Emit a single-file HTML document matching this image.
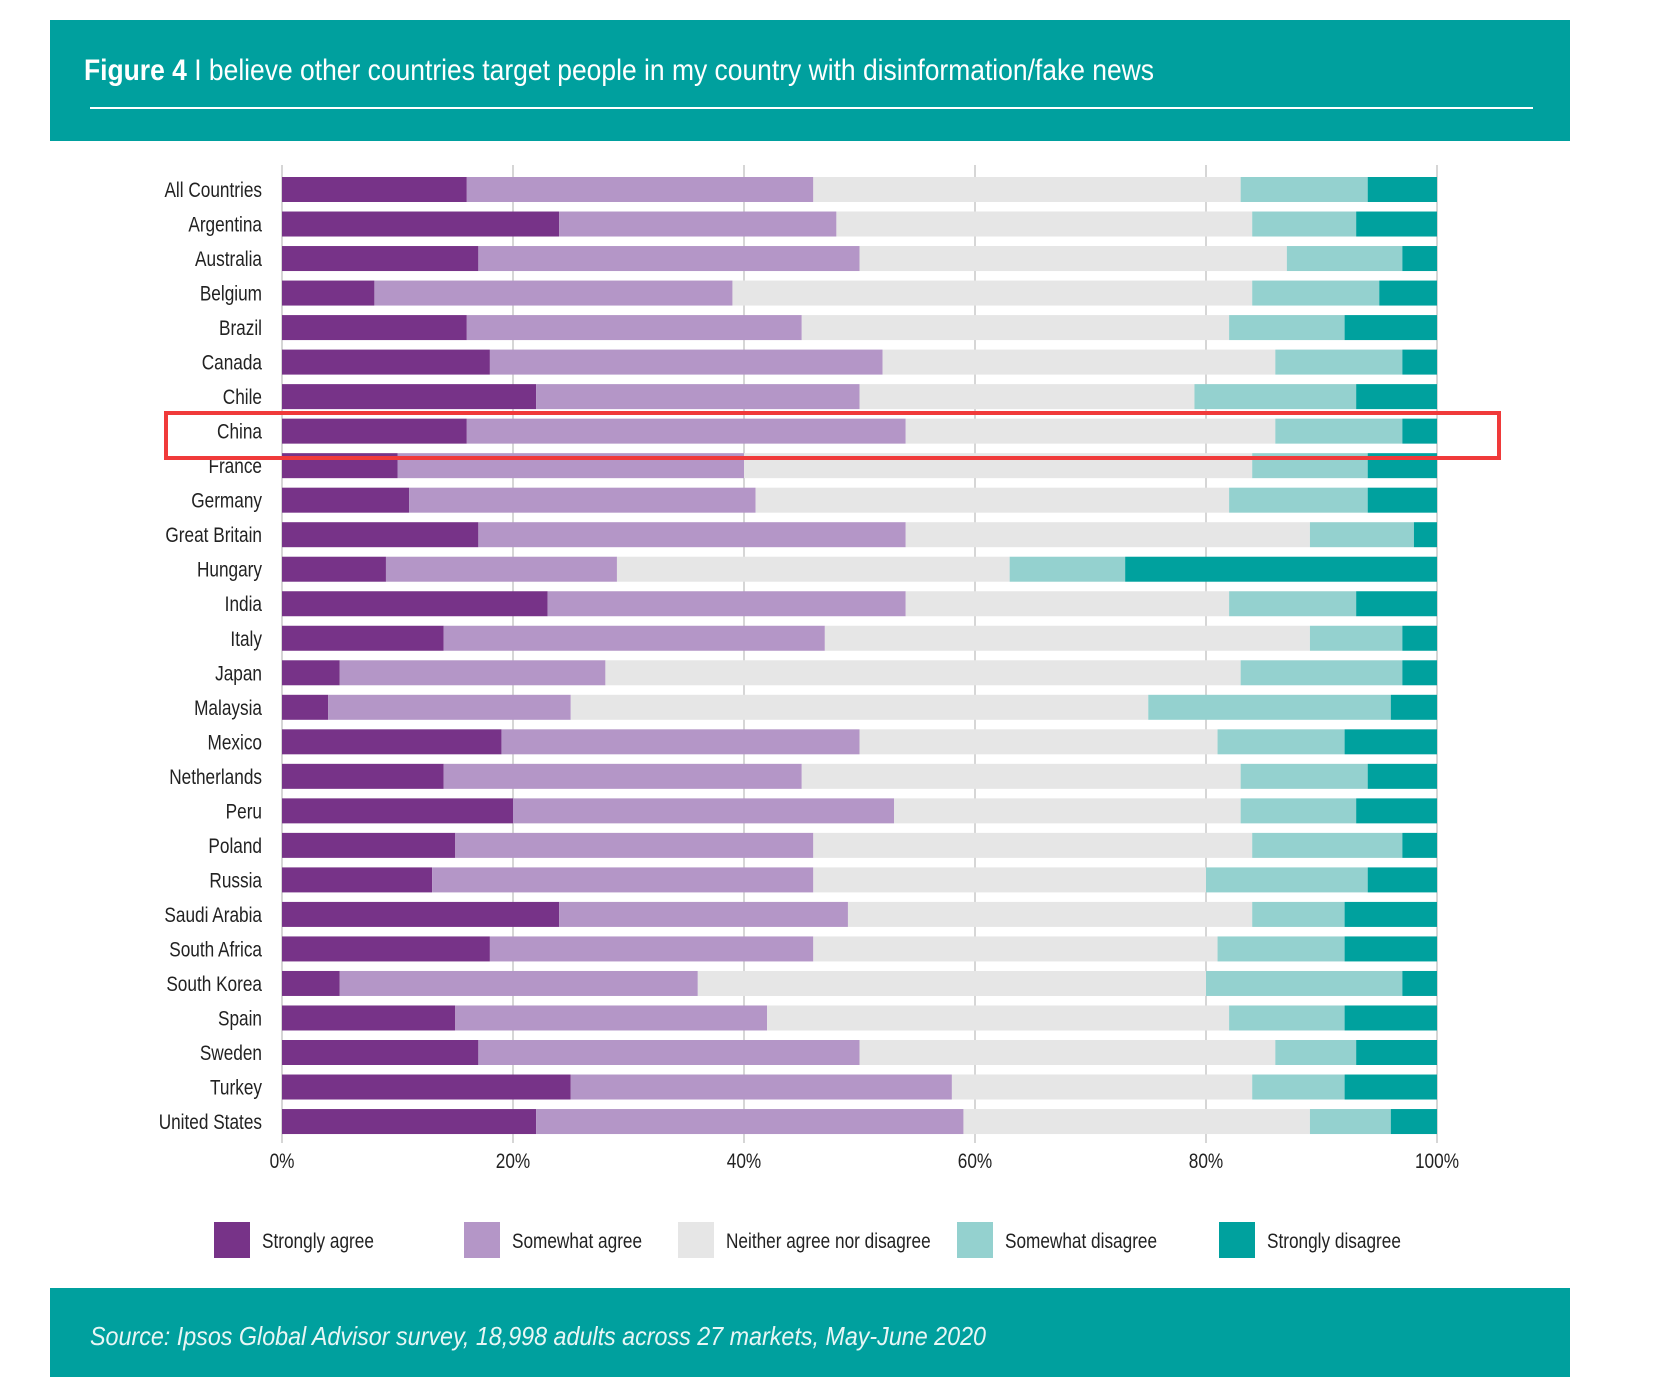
<!DOCTYPE html>
<html><head><meta charset="utf-8">
<style>
body{margin:0;background:#fff;width:1654px;height:1377px;overflow:hidden}
svg{display:block;font-family:"Liberation Sans Narrow","Liberation Sans",sans-serif}
</style></head><body>
<svg id="chart" width="1654" height="1377" viewBox="0 0 1654 1377">
<rect x="50" y="20" width="1520" height="121" fill="#00a09e"/>
<text x="84" y="80" font-size="30" fill="#fff" textLength="1070" lengthAdjust="spacingAndGlyphs"><tspan font-weight="bold">Figure 4</tspan> I believe other countries target people in my country with disinformation/fake news</text>
<line x1="90" y1="108" x2="1533" y2="108" stroke="#fff" stroke-width="2"/>
<g id="grid"></g>
<g id="bars"></g>
<g id="labels"></g>
<g id="ticks"></g>
<rect x="166" y="413" width="1333" height="45" fill="none" stroke="#f03a3a" stroke-width="4"/>
<g id="legend"></g>
<rect x="50" y="1288" width="1520" height="89" fill="#00a09e"/>
<text x="90" y="1345" font-size="26" font-style="italic" fill="#e8f6f5" textLength="896" lengthAdjust="spacingAndGlyphs">Source: Ipsos Global Advisor survey, 18,998 adults across 27 markets, May-June 2020</text>
</svg>
<script>
const countries=["All Countries","Argentina","Australia","Belgium","Brazil","Canada","Chile","China","France","Germany","Great Britain","Hungary","India","Italy","Japan","Malaysia","Mexico","Netherlands","Peru","Poland","Russia","Saudi Arabia","South Africa","South Korea","Spain","Sweden","Turkey","United States"];
const stronglyAgree=[16,24,17,8,16,18,22,16,10,11,17,9,23,14,5,4,19,14,20,15,13,24,18,5,15,17,25,22];
const somewhatAgree=[30,24,33,31,29,34,28,38,30,30,37,20,31,33,23,21,31,31,33,31,33,25,28,31,27,33,33,37];
const neither=[37,36,37,45,37,34,29,32,44,41,35,34,28,42,55,50,31,38,30,38,34,35,35,44,40,36,26,30];
const somewhatDisagree=[11,9,10,11,10,11,14,11,10,12,9,10,11,8,14,21,11,11,10,13,14,8,11,17,10,7,8,7];
const stronglyDisagree=[6,7,3,5,8,3,7,3,6,6,2,27,7,3,3,4,8,6,7,3,6,8,8,3,8,7,8,4];
const tickLabels=["0%","20%","40%","60%","80%","100%"];
const tickValues=[0,20,40,60,80,100];
const seriesNames=["Strongly agree","Somewhat agree","Neither agree nor disagree","Somewhat disagree","Strongly disagree"];

const NS="http://www.w3.org/2000/svg";
const colors=["#773388","#b496c7","#e6e6e6","#94d1cf","#00a19e"];
const x0=282,x1=1437,y0=189.5,step=34.52,bh=25,SX=0.82;
const xs=v=>x0+(x1-x0)*v/100;
const ys=i=>y0+i*step;
function mk(tag,attrs,parent){const e=document.createElementNS(NS,tag);for(const k in attrs)e.setAttribute(k,attrs[k]);document.getElementById(parent).appendChild(e);return e;}
function ntext(x,y,size,anchor,parent){return mk("text",{x:x/SX,y:y,"font-size":size,"text-anchor":anchor,fill:"#222",transform:"scale("+SX+",1)"},parent);}

tickValues.forEach((t,i)=>{
  const g=mk("line",{x1:xs(t),x2:xs(t),y1:165,y2:1143,stroke:"#d6d6d6","stroke-width":2},"grid");
  
  
  const tx=ntext(xs(t),1168,21,"middle","ticks");
  tx.textContent=tickLabels[i];
  
  
});

const series=[stronglyAgree,somewhatAgree,neither,somewhatDisagree,stronglyDisagree];
countries.forEach((c,i)=>{
  let acc=0;
  series.forEach((s,k)=>{
    const v=s[i];
    const r=mk("rect",{x:xs(acc),y:ys(i)-bh/2,width:xs(acc+v)-xs(acc),height:bh,fill:colors[k]},"bars");
    
    
    acc+=v;
  });
  const l=ntext(262,ys(i)+7.5,21,"end","labels");
  l.textContent=c;
  
  
});

const swX=[214,464,678,957,1219];
seriesNames.forEach((n,k)=>{
  const r=mk("rect",{x:swX[k],y:1222,width:36,height:36,fill:colors[k]},"legend");
  
  
  const t=ntext(swX[k]+48,1248,21,"start","legend");
  t.textContent=n;
  
  
});
</script>
</body></html>
